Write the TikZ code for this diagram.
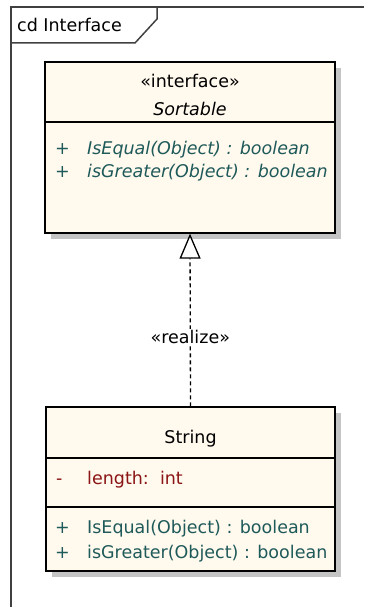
\documentclass[tikz,border=0pt]{standalone}
\usepackage{fontspec}
\setmainfont{DejaVu Sans}
\usetikzlibrary{arrows.meta,shadows}
\definecolor{boxfill}{HTML}{FFF9EE}
\definecolor{opcol}{HTML}{1F5A5A}
\definecolor{attcol}{HTML}{8B1414}
\definecolor{framecol}{HTML}{404040}
\definecolor{shadowcol}{HTML}{C4C4C4}
\begin{document}
\begin{tikzpicture}[x=1pt,y=-1pt,
  classbox/.style={draw=black,line width=1.3pt,fill=boxfill,rectangle,inner sep=0pt,
    drop shadow={shadow xshift=6pt,shadow yshift=-6pt,fill=shadowcol,opacity=1}},
  txt/.style={inner sep=0pt,font=\fontsize{17.5}{21}\selectfont},
  optxt/.style={txt,text=opcol,anchor=base west},
  atttxt/.style={txt,text=attcol,anchor=base west},
  divider/.style={draw=black,line width=1.3pt},
  framestyle/.style={draw=framecol,line width=1.5pt},
  realizeline/.style={draw=black,line width=1.3pt,dash pattern=on 4pt off 3pt,
    -{Triangle[length=25pt,width=21pt,fill=white,line width=1.3pt]}}
]
\useasboundingbox (0,0) rectangle (364,607);
% frame
\draw[framestyle] (364,7) -- (11,7) -- (11,607);
\draw[framestyle] (11,43) -- (135,43) -- (157,19) -- (157,7);
\node[txt,anchor=base west] (title) at (17,31.5) {cd Interface};

% Sortable interface
\node[classbox,minimum width=290pt,minimum height=171pt] (sortable) at (190,147.5) {};
\draw[divider] (sortable.west |- 0,122) -- (sortable.east |- 0,122);
\node[txt,anchor=base] (stereo) at (190,88) {«interface»};
\node[txt,anchor=base,font=\fontsize{17.5}{21}\selectfont\itshape] (sname) at (190,115.5) {Sortable};
\node[optxt] (sp1) at (55,154.5) {+};
\node[optxt,font=\fontsize{17.5}{21}\selectfont\itshape] (sop1) at (87,154.5) {IsEqual(Object) : boolean};
\node[optxt] (sp2) at (55,177.5) {+};
\node[optxt,font=\fontsize{17.5}{21}\selectfont\itshape] (sop2) at (87,177.5) {isGreater(Object) : boolean};

% String class
\node[classbox,minimum width=289pt,minimum height=164pt] (string) at (190.5,489) {};
\draw[divider] (string.west |- 0,458) -- (string.east |- 0,458);
\draw[divider] (string.west |- 0,507) -- (string.east |- 0,507);
\node[txt,anchor=base] (cname) at (190.5,443.5) {String};
\node[atttxt] (am) at (56,484.5) {-};
\node[atttxt] (att) at (87,484.5) {length:~~int};
\node[optxt] (cp1) at (55,533.5) {+};
\node[optxt] (cop1) at (87,533.5) {IsEqual(Object) : boolean};
\node[optxt] (cp2) at (55,558.5) {+};
\node[optxt] (cop2) at (87,558.5) {isGreater(Object) : boolean};

% realization
\draw[realizeline] (string.north) -- node[txt,fill=white,inner sep=2pt,pos=0.4] (rlab) {«realize»} (sortable.south);
\end{tikzpicture}
\end{document}
